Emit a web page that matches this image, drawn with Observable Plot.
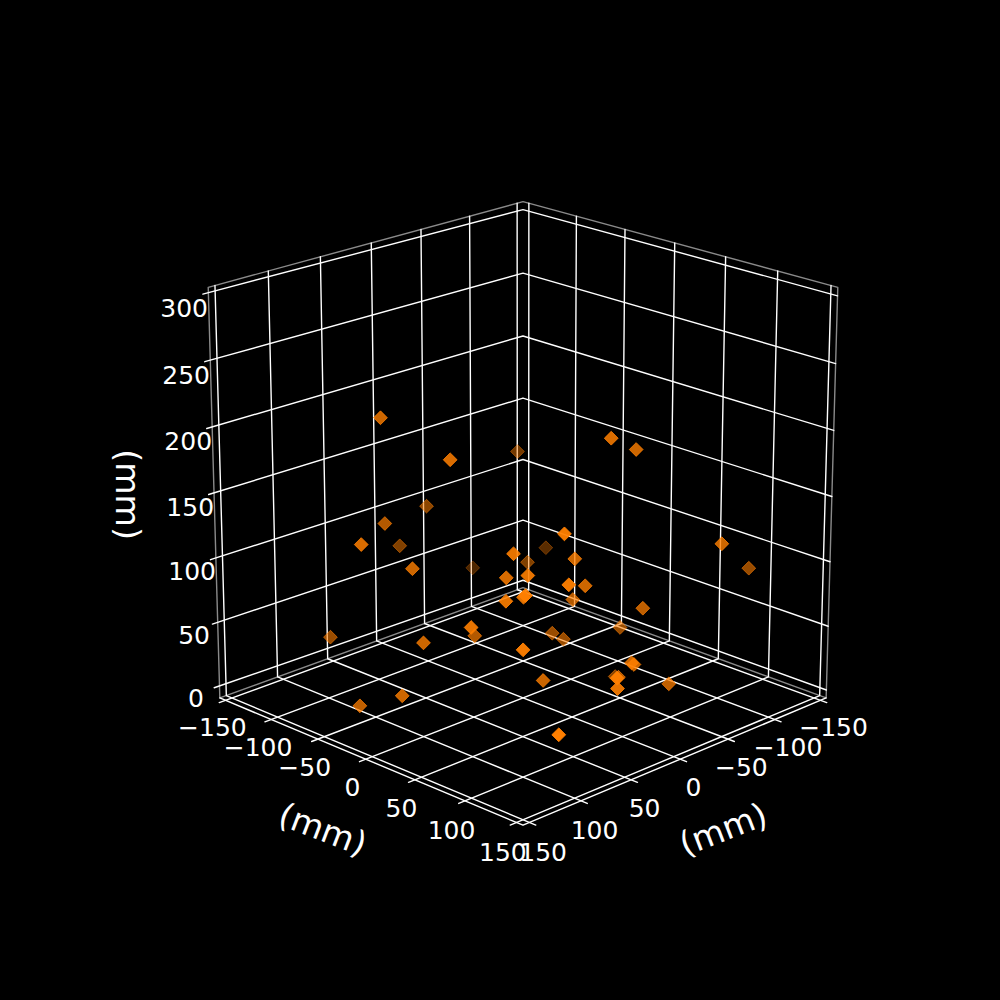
<!DOCTYPE html>
<html><head><meta charset="utf-8">
<script src="https://cdn.jsdelivr.net/npm/d3@7"></script>
<script src="https://cdn.jsdelivr.net/npm/@observablehq/plot@0.6"></script>
<style>html,body{margin:0;background:#000}svg{display:block;background:#000}</style>
</head><body><div id="c"></div>
<script>
const ticksXY=[-150,-100,-50,0,50,100,150];
const ticksZ=[0,50,100,150,200,250,300];
const axisTitle="(mm)";
const xs=[82.1,-117.6,92.2,28.0,-52.5,-91.7,88.9,82.6,88.4,27.4,93.3,94.6,0.6,103.8,125.0,56.2,-17.8,-22.5,121.0,-53.6,100.2,90.3,-84.9,7.1,82.2,148.0,11.3,109.9,7.8,-20.9,-47.3,-130.1,-15.1,17.5,16.6,64.2,-60.4,-9.0,58.5,57.7,-15.1,115.2,96.7,117.0,136.4,142.8];
const ys=[121.9,-93.1,83.0,79.2,-47.8,-146.1,93.6,66.2,132.4,88.9,95.8,95.1,50.8,87.2,74.7,7.6,12.2,19.0,121.1,46.0,-40.7,19.0,-90.7,-92.8,-57.0,-10.4,-117.5,0.6,94.2,91.0,149.3,101.6,104.5,124.8,126.3,84.1,35.1,87.2,149.9,149.7,130.4,149.6,-100.9,18.6,17.0,-20.0];
const zs=[175.5,54.4,153.3,131.2,72.5,30.7,139.3,128.4,143.0,113.5,126.4,125.3,85.1,122.7,105.8,60.8,43.0,38.9,101.5,46.9,223.9,205.2,140.5,120.4,136.0,150.0,83.9,124.7,219.2,203.0,141.1,87.3,89.1,62.8,61.8,51.3,3.2,33.1,70.7,62.7,39.0,45.7,40.3,76.0,41.2,24.4];
const shade=[.95,.35,.9,.8,.5,.3,.9,.85,.95,.8,.9,.9,.7,.9,.9,.7,.6,.6,.95,.6,.8,.85,.45,.55,.7,.85,.5,.8,.85,.8,.8,.6,.75,.8,.8,.8,.55,.7,.9,.9,.75,1,.6,.8,.8,.75];

const lim=156.25, zMin=-6.25, zMax=306.25;
const elev=20*Math.PI/180, azim=45*Math.PI/180, dist=10;
const side=1.8294640721620434*25/24/Math.sqrt(3);
const S=3970,CX=522.5,CY=496;
const w=[Math.cos(elev)*Math.cos(azim),Math.cos(elev)*Math.sin(azim),Math.sin(elev)];
const u=[-Math.sin(azim),Math.cos(azim),0];
const v=[-Math.sin(elev)*Math.cos(azim),-Math.sin(elev)*Math.sin(azim),Math.cos(elev)];
const dot3=(a,b)=>a[0]*b[0]+a[1]*b[1]+a[2]*b[2];
function proj(x,y,z){const p=[x/312.5*side,y/312.5*side,(z-150)/312.5*side];const d=dist-dot3(p,w);return {X:dot3(p,u)/d,Y:dot3(p,v)/d,D:d};}
let id=0;
const polyline=pts=>{id++;return pts.map(q=>({id,...proj(...q)}));};
const gridRows=[];
for(const t of ticksXY){
  gridRows.push(...polyline([[t,lim+6,zMin],[t,-lim,zMin],[t,-lim,zMax]]));
  gridRows.push(...polyline([[lim+6,t,zMin],[-lim,t,zMin],[-lim,t,zMax]]));
}
for(const t of ticksZ) gridRows.push(...polyline([[lim,-lim-6,t],[-lim,-lim,t],[-lim,lim,t]]));
const frontRows=polyline([[-lim,lim,zMin],[lim,lim,zMin],[lim,-lim,zMin]]);
const edgeRows=polyline([[lim,-lim,zMin],[lim,-lim,zMax],[-lim,-lim,zMax],[-lim,lim,zMax],[-lim,lim,zMin],[-lim,-lim,zMin],[lim,-lim,zMin]]);
const fmt=t=>t<0?"\u2212"+(-t):String(t);
const tickLabels=[];
for(const t of ticksXY){
  tickLabels.push({...proj(lim+14,t+1,zMin-17.5),t:fmt(t)});
  tickLabels.push({...proj(t+1,lim+14,zMin-17.5),t:fmt(t)});
}
for(const t of ticksZ) tickLabels.push({...proj(lim,-lim-27,t-15.5),t:fmt(t)});
const pts=xs.map((x,i)=>({...proj(x,ys[i],zs[i]),o:shade[i]})).sort((a,b)=>b.D-a.D);
const title=(p,rotate)=>Plot.text([p],{x:"X",y:"Y",text:()=>axisTitle,fill:"#fff",fontSize:33.3,rotate});
const marks=[
 Plot.line(edgeRows,{x:"X",y:"Y",z:"id",stroke:"#8a8a8a",strokeWidth:1.4}),
 Plot.line(gridRows,{x:"X",y:"Y",z:"id",stroke:"#fff",strokeWidth:1.4}),
 Plot.line(frontRows,{x:"X",y:"Y",z:"id",stroke:"#fff",strokeWidth:1.4}),
 Plot.dot(pts,{x:"X",y:"Y",symbol:"diamond2",r:6.2,fill:"#ff7f00",fillOpacity:"o",stroke:"#ff7f00",strokeOpacity:"o",strokeWidth:1}),
 Plot.text(tickLabels,{x:"X",y:"Y",text:"t",fill:"#fff",fontSize:25,textAnchor:"middle"}),
 title(proj(lim+42,0,zMin-41),21),
 title(proj(0,lim+42,zMin-41),-21),
 title(proj(lim,-lim-99,126),90)
];
document.getElementById("c").append(Plot.plot({width:1000,height:1000,margin:0,
 style:{background:"#000",fontFamily:"DejaVu Sans"},
 x:{domain:[(0-CX)/S,(1000-CX)/S],range:[0,1000],axis:null},
 y:{domain:[(CY-1000)/S,CY/S],range:[1000,0],axis:null},
 marks}));
</script></body></html>
